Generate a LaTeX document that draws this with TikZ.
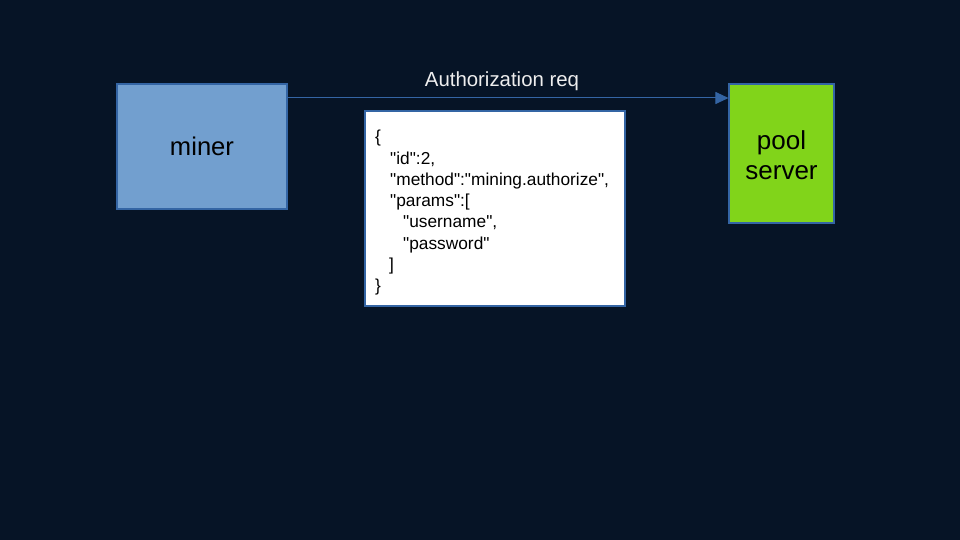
\documentclass[tikz,border=0pt]{standalone}
\usepackage{fontspec}
\setmainfont{Liberation Sans}
\newfontfamily\jsonfont{Liberation Sans}
\usetikzlibrary{arrows.meta}
\definecolor{bg}{HTML}{061426}
\definecolor{edgeblue}{HTML}{3465A4}
\definecolor{minerfill}{HTML}{729FCF}
\definecolor{poolfill}{HTML}{81D41A}
\definecolor{labelfg}{HTML}{EEEEEE}
\newcommand\qq{\symbol{34}}
\tikzset{
  x=1pt, y=-1pt,
  boxstyle/.style={draw=edgeblue, line width=1.1pt, inner sep=0pt},
  jsonline/.style={anchor=base west, inner sep=0pt, text=black, font=\jsonfont\fontsize{17.3}{21}\selectfont},
}
\begin{document}
\begin{tikzpicture}
\fill[bg] (0,0) rectangle (960,540);
\useasboundingbox (0,0) rectangle (960,540);
\node[boxstyle, fill=minerfill, minimum width=170pt, minimum height=125pt] (miner) at (202,146.5) {};
\node[font=\fontsize{25.6}{30}\selectfont, text=black] (minert) at (miner.center) {miner};
\node[boxstyle, fill=poolfill, minimum width=105pt, minimum height=139pt] (pool) at (781.5,153.5) {};
\node[font=\fontsize{26}{30}\selectfont, text=black, align=center] (poolt) at (781.5,155) {pool\\server};
\node[boxstyle, fill=white, minimum width=260pt, minimum height=195pt] (json) at (495,208.5) {};
\coordinate (a1) at (miner.east |- 0,98);
\coordinate (a2) at (pool.west |- 0,98);
\draw[edgeblue, line width=1pt, -{Triangle[length=13pt,width=12pt]}] (a1) -- (a2);
\node[text=labelfg, font=\fontsize{20.4}{24}\selectfont, anchor=base] (lbl) at (502,87) {Authorization req};
\node[jsonline] (j1) at (375,143) {\{};
\node[jsonline] (j2) at (390,164.2) {\qq id\qq:2,};
\node[jsonline] (j3) at (390,185.4) {\qq method\qq:\qq mining.authorize\qq,};
\node[jsonline] (j4) at (390,206.6) {\qq params\qq:[};
\node[jsonline] (j5) at (403,227.8) {\qq username\qq,};
\node[jsonline] (j6) at (403,249) {\qq password\qq};
\node[jsonline] (j7) at (389,270.2) {]};
\node[jsonline] (j8) at (375,291.4) {\}};
\end{tikzpicture}
\end{document}
